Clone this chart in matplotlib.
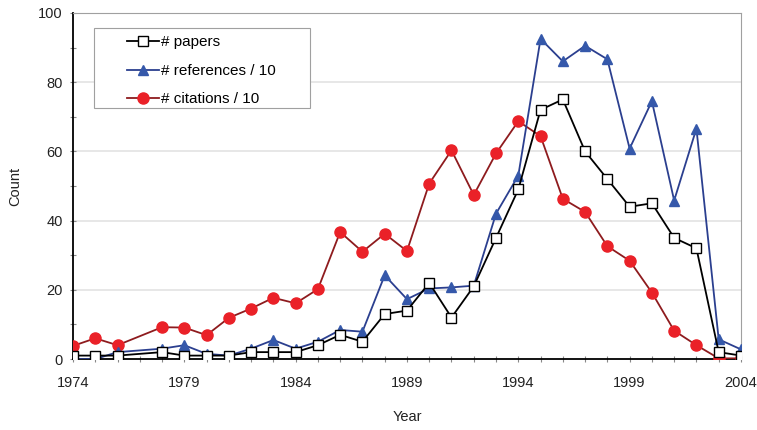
import numpy as np
import matplotlib
matplotlib.use("Agg")
import matplotlib.pyplot as plt
from matplotlib.ticker import MultipleLocator, FixedLocator
from matplotlib.patches import Rectangle

plt.rcParams['font.family'] = ['Liberation Sans', 'DejaVu Sans']

# data (1977 has no point)
years = [1974, 1975, 1976, 1978, 1979, 1980, 1981, 1982, 1983, 1984, 1985,
         1986, 1987, 1988, 1989, 1990, 1991, 1992, 1993, 1994, 1995, 1996,
         1997, 1998, 1999, 2000, 2001, 2002, 2003, 2004]
papers = [1, 1, 1, 2, 1, 1, 1, 2, 2, 2, 4,
          7, 5, 13, 14, 22, 12, 21, 35, 49, 72, 75,
          60, 52, 44, 45, 35, 32, 2, 1]
references = [0, 0, 2, 3, 4, 1.5, 1, 3, 5.5, 3, 5,
              8.4, 7.9, 24.2, 17.3, 20.4, 20.7, 21.2, 42, 53, 92.5, 86,
              90.5, 86.6, 60.8, 74.5, 45.8, 66.6, 5.7, 2.8]
citations = [3.8, 6, 4, 9.2, 9.1, 6.9, 11.9, 14.6, 17.7, 16.1, 20.2,
             36.7, 31, 36.2, 31.2, 50.7, 60.3, 47.4, 59.4, 68.7, 64.4, 46.3,
             42.5, 32.6, 28.4, 19.2, 8.2, 4.0, 0.2, 0.2]
year_labels = [1974, 1979, 1984, 1989, 1994, 1999, 2004]

fig = plt.figure(figsize=(7.57, 4.30), dpi=100)
ax = fig.add_axes([0.0964, 0.165, 0.8824, 0.805])

ax.plot(years, papers, color='black', lw=1.3, marker='s', ms=7.5,
        mfc='white', mec='black', mew=1.0, label='# papers', zorder=5)
ax.plot(years, references, color='#2B3F8F', lw=1.3, marker='^', ms=7.5,
        mfc='#3558AA', mec='#3558AA', label='# references / 10', zorder=4)
ax.plot(years, citations, color='#8E1B1E', lw=1.3, marker='o', ms=8,
        mfc='#EA2128', mec='#EA2128', label='# citations / 10', zorder=3)

ax.set_xlim(1974, 2004)
ax.set_ylim(0, 100)
ax.xaxis.set_major_locator(FixedLocator(year_labels))
ax.xaxis.set_minor_locator(MultipleLocator(1))
ax.yaxis.set_major_locator(MultipleLocator(20))
ax.yaxis.set_minor_locator(MultipleLocator(10))
ax.tick_params(which='both', direction='inout', length=5, width=0.8,
               color='#888888', labelsize=10.5, labelcolor='#222222')
ax.tick_params(axis='x', which='major', pad=10)
ax.tick_params(axis='y', which='major', pad=5)
for gy in [20, 40, 60, 80]:
    ax.axhline(gy, color='#E3E3E3', lw=1.2, zorder=0)

ax.spines['left'].set_color('black')
ax.spines['bottom'].set_color('black')
ax.spines['left'].set_linewidth(1.3)
ax.spines['bottom'].set_linewidth(1.3)
ax.spines['top'].set_color('#A0A0A0')
ax.spines['right'].set_color('#A0A0A0')

ax.set_xlabel('Year', fontsize=10.5, labelpad=14, color='#222222')
ax.set_ylabel('Count', fontsize=10.5, labelpad=11, color='#222222')

# legend frame drawn as its own box, entries placed inside it
ax.add_patch(Rectangle((0.032, 0.7246), 0.323, 0.2314, transform=ax.transAxes,
                       fill=True, facecolor='white', edgecolor='#A0A0A0',
                       lw=0.8, zorder=6))
leg = ax.legend(loc='upper left', bbox_to_anchor=(0.081, 0.935), fontsize=11,
                frameon=False, handlelength=2.1, borderpad=0, labelspacing=0.95,
                handletextpad=0.15, borderaxespad=0)
leg.set_zorder(7)

fig.savefig('out.png', dpi=100)
